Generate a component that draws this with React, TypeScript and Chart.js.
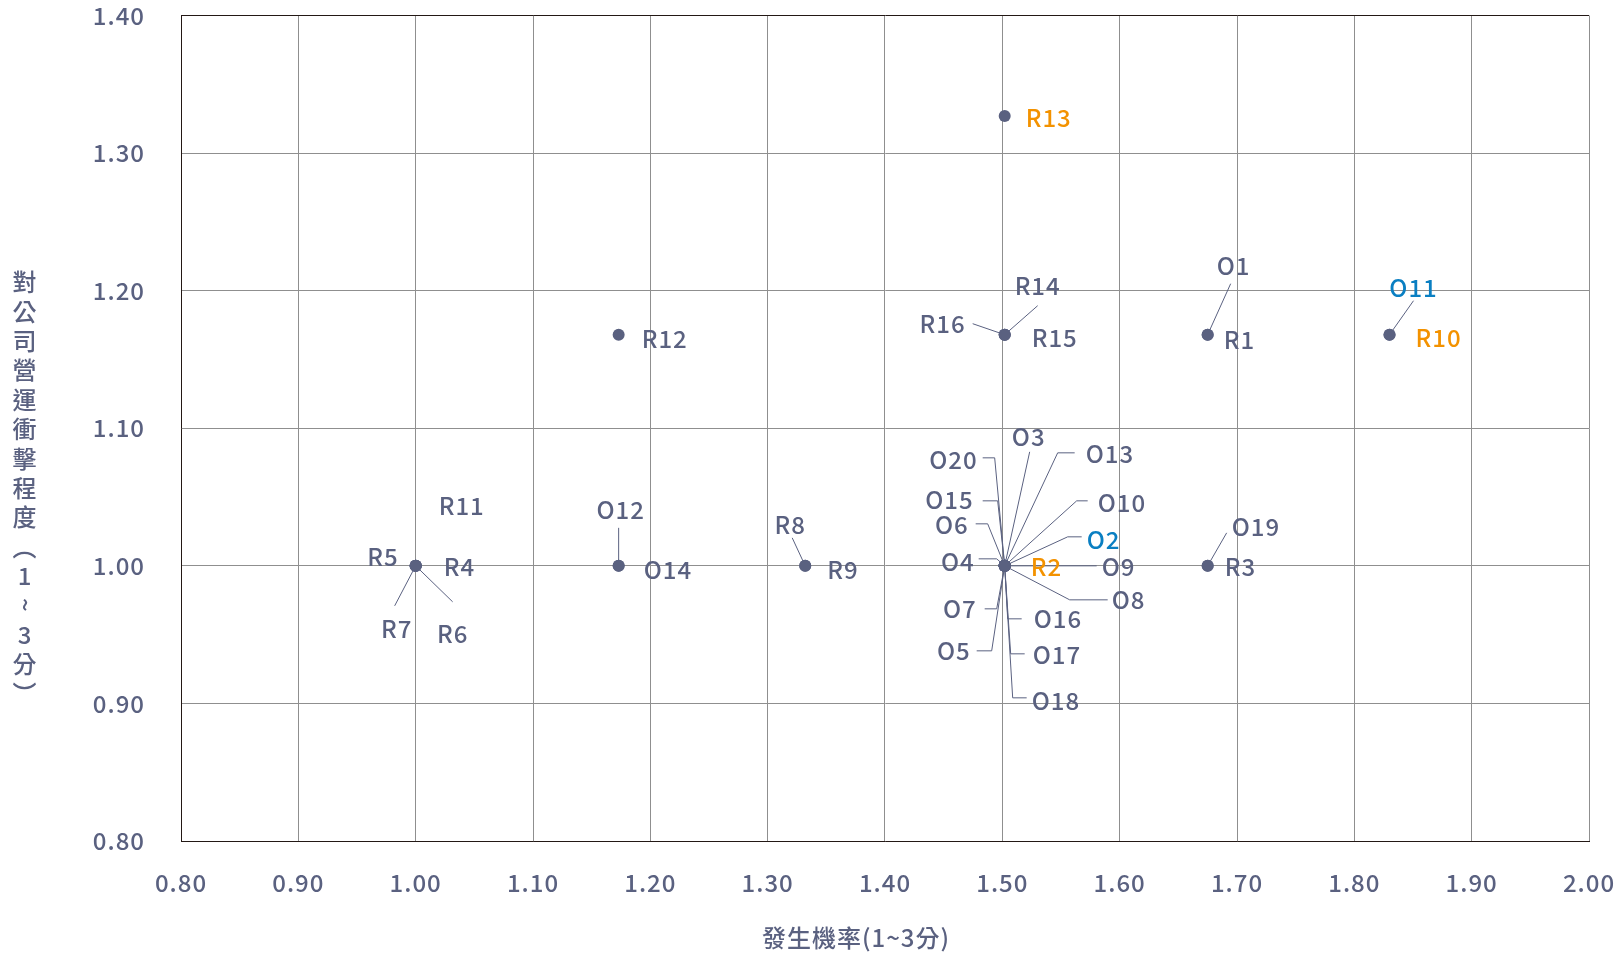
import React, { useEffect, useRef } from "react";
import { Chart, registerables } from "chart.js";

Chart.register(...registerables);

// ---------- data ----------
const riskIds = ["R1", "R2", "R3", "R4", "R5", "R6", "R7", "R8", "R9", "R10", "R11", "R12", "R13", "R14", "R15", "R16"];
const riskProbability = [1.675, 1.502, 1.675, 1.0, 1.0, 1.0, 1.0, 1.332, 1.332, 1.83, 1.0, 1.173, 1.502, 1.502, 1.502, 1.502];
const riskImpact = [1.168, 1.0, 1.0, 1.0, 1.0, 1.0, 1.0, 1.0, 1.0, 1.168, 1.0, 1.168, 1.327, 1.168, 1.168, 1.168];

const oppIds = ["O1", "O2", "O3", "O4", "O5", "O6", "O7", "O8", "O9", "O10", "O11", "O12", "O13", "O14", "O15", "O16", "O17", "O18", "O19", "O20"];
const oppProbability = [1.675, 1.502, 1.502, 1.502, 1.502, 1.502, 1.502, 1.502, 1.502, 1.502, 1.83, 1.173, 1.502, 1.173, 1.502, 1.502, 1.502, 1.502, 1.675, 1.502];
const oppImpact = [1.168, 1.0, 1.0, 1.0, 1.0, 1.0, 1.0, 1.0, 1.0, 1.0, 1.168, 1.0, 1.0, 1.0, 1.0, 1.0, 1.0, 1.0, 1.0, 1.0];

const orangeIds = ["R2", "R10", "R13"];
const blueIds = ["O2", "O11"];

const xTitle = "發生機率(1~3分)";
const yTitleChars = ["對", "公", "司", "營", "運", "衝", "擊", "程", "度", "︵", "1", "~", "3", "分", "︶"];

// ---------- styles ----------
const SLATE = "#5a6180";
const ORANGE = "#f39200";
const BLUE = "#0a7fc2";
const GRID = "#8f8f8f";
const DARK = "#231815";
const FONT = '"Noto Sans CJK TC", "Noto Sans", sans-serif';
const FONT_SIZE = 24;
const FONT_WEIGHT = "500";

// label layout: text offset from point (px), alignment, optional leader path (offsets)
type Lay = { dx: number; dy: number; align: CanvasTextAlign; path?: [number, number][] };
const LABEL_LAYOUT: Record<string, Lay> = {
  R13: { dx: 21, dy: 2, align: "left" },
  R12: { dx: 23, dy: 4, align: "left" },
  R14: { dx: 33, dy: -49, align: "center", path: [[33, -29]] },
  R16: { dx: -39, dy: -11, align: "right", path: [[-32, -11]] },
  R15: { dx: 27, dy: 3, align: "left" },
  O1: { dx: 26, dy: -69, align: "center", path: [[23, -51]] },
  R1: { dx: 16, dy: 5, align: "left" },
  O11: { dx: 24, dy: -47, align: "center", path: [[24, -34]] },
  R10: { dx: 26, dy: 3, align: "left" },
  O19: { dx: 24, dy: -39, align: "left", path: [[19, -33]] },
  R3: { dx: 17, dy: 1, align: "left" },
  R5: { dx: -17, dy: -9, align: "right" },
  R4: { dx: 28, dy: 1, align: "left" },
  R11: { dx: 23, dy: -60, align: "left" },
  R7: { dx: -19, dy: 63, align: "center", path: [[-21, 40]] },
  R6: { dx: 37, dy: 68, align: "center", path: [[37, 36]] },
  O12: { dx: 2, dy: -56, align: "center", path: [[0, -38]] },
  O14: { dx: 25, dy: 4, align: "left" },
  R8: { dx: -15, dy: -41, align: "center", path: [[-13, -28]] },
  R9: { dx: 22, dy: 4, align: "left" },
  O3: { dx: 24, dy: -129, align: "center", path: [[25, -114]] },
  O13: { dx: 81, dy: -112, align: "left", path: [[53, -113], [70, -113]] },
  O10: { dx: 93, dy: -63, align: "left", path: [[72, -65], [83, -65]] },
  O2: { dx: 82, dy: -26, align: "left", path: [[63, -29], [77, -29]] },
  O9: { dx: 97, dy: 1, align: "left", path: [[92, 0]] },
  R2: { dx: 26, dy: 1, align: "left" },
  O8: { dx: 107, dy: 34, align: "left", path: [[65, 34], [103, 34]] },
  O16: { dx: 29, dy: 53, align: "left", path: [[3, 53], [17, 53]] },
  O17: { dx: 28, dy: 89, align: "left", path: [[6, 88], [20, 88]] },
  O18: { dx: 27, dy: 135, align: "left", path: [[8, 132], [22, 132]] },
  O5: { dx: -34, dy: 85, align: "right", path: [[-13, 85], [-28, 85]] },
  O7: { dx: -28, dy: 43, align: "right", path: [[-8, 43], [-20, 43]] },
  O4: { dx: -30, dy: -4, align: "right", path: [[-8, -7], [-26, -7]] },
  O6: { dx: -36, dy: -41, align: "right", path: [[-17, -42], [-29, -42]] },
  O15: { dx: -31, dy: -66, align: "right", path: [[-7, -65], [-22, -65]] },
  O20: { dx: -27, dy: -106, align: "right", path: [[-10, -108], [-22, -108]] },
};

type Item = { id: string; x: number; y: number };
const items: Item[] = [
  ...riskIds.map((id, i) => ({ id, x: riskProbability[i], y: riskImpact[i] })),
  ...oppIds.map((id, i) => ({ id, x: oppProbability[i], y: oppImpact[i] })),
];

const labelColor = (id: string) => (orangeIds.includes(id) ? ORANGE : blueIds.includes(id) ? BLUE : SLATE);

const labelPlugin = {
  id: "riskLabels",
  beforeDraw(chart: any) {
    (chart.ctx as any).letterSpacing = "1px";
  },
  beforeDatasetsDraw(chart: any) {
    const ctx = chart.ctx as CanvasRenderingContext2D;
    const xs = chart.scales.x;
    const ys = chart.scales.y;
    ctx.save();
    ctx.strokeStyle = SLATE;
    ctx.lineWidth = 1;
    items.forEach((it) => {
      const lay = LABEL_LAYOUT[it.id];
      if (!lay || !lay.path) return;
      const px = xs.getPixelForValue(it.x);
      const py = ys.getPixelForValue(it.y);
      ctx.beginPath();
      ctx.moveTo(px, py);
      lay.path.forEach(([dx, dy]) => ctx.lineTo(px + dx, py + dy));
      ctx.stroke();
    });
    ctx.restore();
  },
  afterDatasetsDraw(chart: any) {
    const ctx = chart.ctx as CanvasRenderingContext2D;
    const xs = chart.scales.x;
    const ys = chart.scales.y;
    ctx.save();
    ctx.font = `${FONT_WEIGHT} ${FONT_SIZE}px ${FONT}`;
    ctx.textBaseline = "middle";
    (ctx as any).letterSpacing = "1px";
    items.forEach((it) => {
      const lay = LABEL_LAYOUT[it.id];
      if (!lay) return;
      const px = xs.getPixelForValue(it.x);
      const py = ys.getPixelForValue(it.y);
      ctx.fillStyle = labelColor(it.id);
      ctx.textAlign = lay.align;
      ctx.fillText(it.id, px + lay.dx, py + lay.dy);
    });
    // axis titles
    ctx.fillStyle = SLATE;
    ctx.textAlign = "center";
    ctx.fillText(xTitle, 848, 930);
    yTitleChars.forEach((ch, i) => {
      const cy = 274 + i * 29.4;
      if (ch === "~") {
        ctx.save();
        ctx.translate(17, cy);
        ctx.rotate(Math.PI / 2);
        ctx.fillText(ch, 0, 0);
        ctx.restore();
      } else {
        ctx.fillText(ch, 17, cy);
      }
    });
    ctx.restore();
  },
};

export default function App() {
  const canvasRef = useRef<HTMLCanvasElement | null>(null);

  useEffect(() => {
    document.documentElement.style.overflow = "hidden";
    document.body.style.overflow = "hidden";
    const canvas = canvasRef.current;
    if (!canvas) return;
    const chart = new Chart(canvas, {
      type: "scatter",
      data: {
        datasets: [
          {
            data: items.map((it) => ({ x: it.x, y: it.y })),
            backgroundColor: SLATE,
            borderColor: SLATE,
            pointRadius: 6,
            pointHoverRadius: 6,
            borderWidth: 0,
          },
        ],
      },
      options: {
        animation: false,
        responsive: true,
        maintainAspectRatio: false,
        layout: { padding: { top: 7.5, right: 26, left: 0, bottom: 0 }, autoPadding: false },
        plugins: {
          legend: { display: false },
          tooltip: { enabled: false },
          title: { display: false },
        },
        scales: {
          x: {
            type: "linear",
            min: 0.8,
            max: 2.0,
            ticks: {
              stepSize: 0.1,
              padding: 27,
              color: SLATE,
              font: { family: FONT, size: FONT_SIZE, weight: FONT_WEIGHT },
              callback: (v: any) => Number(v).toFixed(2),
            },
            grid: { color: GRID, lineWidth: 1, drawTicks: false },
            border: { color: DARK, width: 1 },
            afterFit: (scale: any) => {
              scale.height = 113;
              scale.paddingLeft = 0;
              scale.paddingRight = 0;
            },
          },
          y: {
            type: "linear",
            min: 0.8,
            max: 1.4,
            ticks: {
              stepSize: 0.1,
              padding: 36,
              color: SLATE,
              font: { family: FONT, size: FONT_SIZE, weight: FONT_WEIGHT, lineHeight: 0.6 },
              callback: (v: any) => Number(v).toFixed(2),
            },
            grid: {
              color: (c: any) => (c.tick && Math.abs(c.tick.value - 1.4) < 1e-6 ? DARK : GRID),
              lineWidth: 1,
              drawTicks: false,
            },
            border: { color: DARK, width: 1 },
            afterFit: (scale: any) => {
              scale.width = 173;
              scale.paddingTop = 0;
              scale.paddingBottom = 0;
            },
          },
        },
      },
      plugins: [labelPlugin],
    });
    return () => chart.destroy();
  }, []);

  return (
    <div style={{ position: "relative", width: "1607px", height: "946px" }}>
      <canvas ref={canvasRef} />
    </div>
  );
}
